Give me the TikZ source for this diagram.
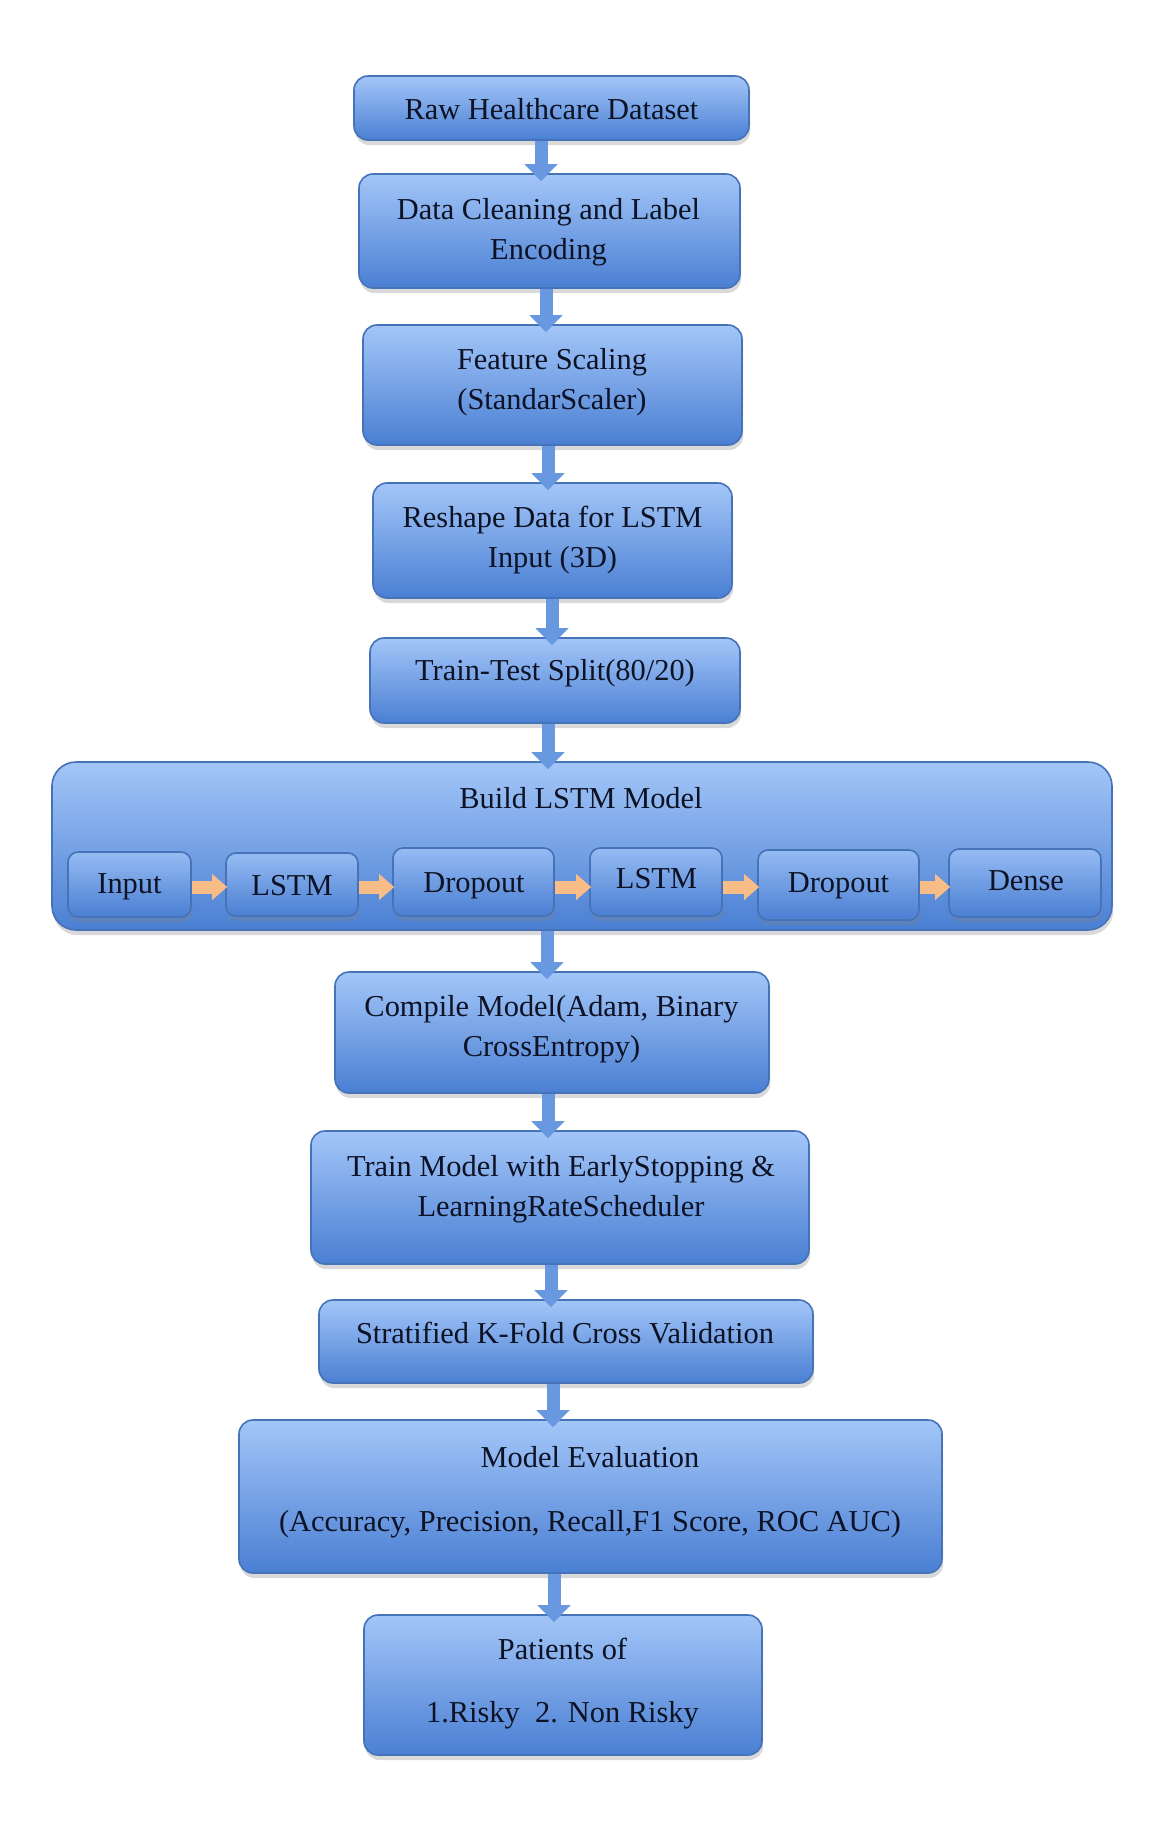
\documentclass[tikz,border=0pt]{standalone}
\usepackage{fontspec}
\setmainfont{Liberation Serif}
\usetikzlibrary{arrows.meta,shadows}
\definecolor{boxtop}{HTML}{A3C6F8}
\definecolor{boxbot}{HTML}{4A7FD3}
\definecolor{boxline}{HTML}{4672B8}
\definecolor{arrblue}{HTML}{6898E0}
\definecolor{arrorange}{HTML}{F8BC86}
\definecolor{txt}{HTML}{0D1224}
\begin{document}
\begin{tikzpicture}[x=0.5pt,y=-0.5pt,
  box/.style={draw=boxline, line width=0.8pt, rounded corners=7pt,
    top color=boxtop, bottom color=boxbot,
    drop shadow={shadow xshift=0.6pt, shadow yshift=-2.5pt, opacity=0.3},
    inner sep=0pt},
  bigbox/.style={box, rounded corners=12pt},
  layerbox/.style={box, rounded corners=5pt, top color=boxtop!85!boxbot},
  lbl/.style={text=txt, font=\fontsize{15.2}{20}\selectfont, align=center, inner sep=0pt},
  flow/.style={draw=arrblue, line width=6.5pt, -{Triangle[width=16pt,length=8.5pt]}, shorten >=-4pt},
  layerflow/.style={draw=arrorange, line width=6.5pt, -{Triangle[width=12.5pt,length=7.5pt]}, shorten >=-1pt}
]
\useasboundingbox (0,0) rectangle (1172,1821);

% main column boxes
\node[box, minimum width=197.5pt, minimum height=32pt] (b1) at (551.5,108) {};
\node[box, minimum width=190.5pt, minimum height=57pt] (b2) at (549.5,231) {};
\node[box, minimum width=189.5pt, minimum height=60pt] (b3) at (552.5,385) {};
\node[box, minimum width=179.5pt, minimum height=57.5pt] (b4) at (552.5,540.5) {};
\node[box, minimum width=185pt, minimum height=42.5pt] (b5) at (555,680.5) {};
\node[bigbox, minimum width=530pt, minimum height=84pt] (big) at (582,846) {};
\node[layerbox, minimum width=61.5pt, minimum height=32.5pt] (i1) at (129.5,884.5) {};
\node[layerbox, minimum width=66pt, minimum height=31.5pt] (i2) at (292,884.5) {};
\node[layerbox, minimum width=80.5pt, minimum height=34pt] (i3) at (473.5,882) {};
\node[layerbox, minimum width=66pt, minimum height=34pt] (i4) at (656,882) {};
\node[layerbox, minimum width=80.5pt, minimum height=35pt] (i5) at (838.5,885) {};
\node[layerbox, minimum width=76pt, minimum height=34pt] (i6) at (1025,883) {};
\node[box, minimum width=217pt, minimum height=60.5pt] (b6) at (552,1032.5) {};
\node[box, minimum width=249pt, minimum height=66.5pt] (b7) at (560,1197.5) {};
\node[box, minimum width=247pt, minimum height=41.5pt] (b8) at (566,1341.5) {};
\node[box, minimum width=351.5pt, minimum height=76.5pt] (b9) at (590.5,1496.5) {};
\node[box, minimum width=199pt, minimum height=70pt] (b10) at (563,1685) {};

% labels
\node[lbl, anchor=base] (t1) at (551.5,119) {Raw Healthcare Dataset};
\node[lbl] (t2) at (548.5,232) {Data Cleaning and Label\\Encoding};
\node[lbl] (t3) at (552,382.5) {Feature Scaling\\(StandarScaler)};
\node[lbl] (t4) at (552.5,540) {Reshape Data for LSTM\\Input (3D)};
\node[lbl, anchor=base] (t5) at (555,680) {Train-Test Split(80/20)};
\node[lbl, anchor=base] (tb) at (581,808) {Build LSTM Model};
\node[lbl, anchor=base] (ti1) at (129.5,893) {Input};
\node[lbl, anchor=base] (ti2) at (292,895) {LSTM};
\node[lbl, anchor=base] (ti3) at (474,892) {Dropout};
\node[lbl, anchor=base] (ti4) at (656.5,888) {LSTM};
\node[lbl, anchor=base] (ti5) at (838.5,892) {Dropout};
\node[lbl, anchor=base] (ti6) at (1026,890) {Dense};
\node[lbl] (t6) at (551.5,1029.5) {Compile Model(Adam, Binary\\CrossEntropy)};
\node[lbl] (t7) at (561,1189.5) {Train Model with EarlyStopping \&\\LearningRateScheduler};
\node[lbl, anchor=base] (t8) at (565,1343) {Stratified K-Fold Cross Validation};
\node[lbl] (t9) at (590,1492.5) {Model Evaluation\\[12pt](Accuracy, Precision, Recall,F1 Score, ROC AUC)};
\node[lbl] (t10) at (562.5,1684) {Patients of\\[11.5pt]1.Risky\ \ 2. Non Risky};

% main flow arrows
\draw[flow] ([xshift=-5.25pt]b1.south) -- ([xshift=-5.25pt]b1.south |- b2.north);
\draw[flow] ([xshift=-1.75pt]b2.south) -- ([xshift=-1.75pt]b2.south |- b3.north);
\draw[flow] ([xshift=-2.25pt]b3.south) -- ([xshift=-2.25pt]b3.south |- b4.north);
\draw[flow] ([xshift=-0.25pt]b4.south) -- ([xshift=-0.25pt]b4.south |- b5.north);
\draw[flow] ([xshift=-3.5pt]b5.south) -- ([xshift=-3.5pt]b5.south |- big.north);
\draw[flow] ([xshift=-17.5pt]big.south) -- ([xshift=-17.5pt]big.south |- b6.north);
\draw[flow] ([xshift=-2pt]b6.south) -- ([xshift=-2pt]b6.south |- b7.north);
\draw[flow] ([xshift=-4.5pt]b7.south) -- ([xshift=-4.5pt]b7.south |- b8.north);
\draw[flow] ([xshift=-6.5pt]b8.south) -- ([xshift=-6.5pt]b8.south |- b9.north);
\draw[flow] ([xshift=-18.25pt]b9.south) -- ([xshift=-18.25pt]b9.south |- b10.north);

% layer arrows
\coordinate (arow) at (0,887);
\draw[layerflow] (i1.east |- arow) -- (i2.west |- arow);
\draw[layerflow] (i2.east |- arow) -- (i3.west |- arow);
\draw[layerflow] (i3.east |- arow) -- (i4.west |- arow);
\draw[layerflow] (i4.east |- arow) -- (i5.west |- arow);
\draw[layerflow] (i5.east |- arow) -- (i6.west |- arow);
\end{tikzpicture}
\end{document}
